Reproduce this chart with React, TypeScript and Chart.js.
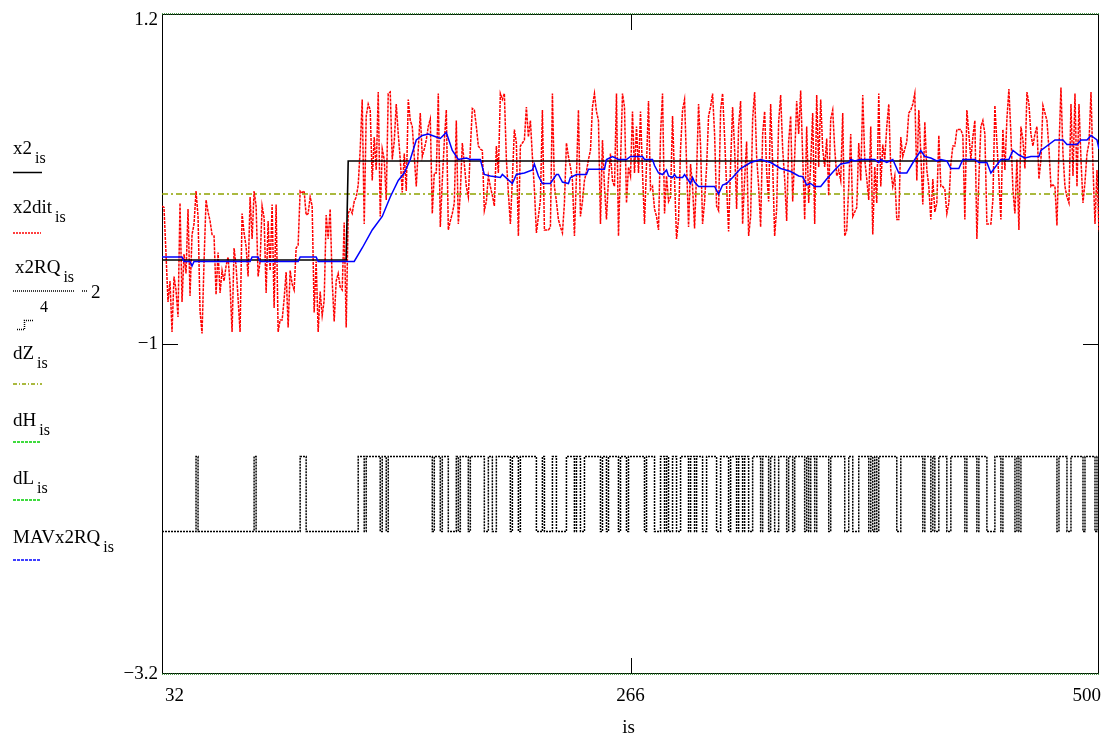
import React, { useEffect, useRef } from "react";
import { Chart, registerables } from "chart.js";

Chart.register(...registerables);

// ---------------- data ----------------
const IS_FIRST = 32; // first index "is"
const xTicks = [32, 266, 500];
const yTicks = [-3.2, -1, 1.2];

// x2 (black step): vertices
const x2Idx = [32, 124, 125, 500];
const x2Val = [-0.44, -0.44, 0.22, 0.22];

// thresholds
const dZ = 0;
const dH = 1.2;
const dL = -3.2;

// x2dit (red), one value per is = 32..500
const x2dit = [
  -0.08, -0.09, -0.4, -0.72, -0.58, -0.92, -0.55, -0.64, -0.82, -0.06,
  -0.72, -0.4, -0.53, -0.1, -0.68, -0.27, -0.2, 0.02, -0.15, -0.78,
  -0.93, -0.45, -0.04, -0.12, -0.18, -0.27, -0.28, -0.67, -0.39, -0.66,
  -0.51, -0.58, -0.48, -0.42, -0.61, -0.92, -0.36, -0.48, -0.7, -0.92,
  -0.13, -0.26, -0.35, -0.55, -0.02, -0.3, 0.02, -0.08, -0.55, -0.45,
  -0.08, -0.16, -0.66, -0.18, -0.51, -0.07, -0.76, -0.07, -0.92, -0.84,
  -0.84, -0.7, -0.52, -0.89, -0.51, -0.6, -0.64, -0.36, -0.34, 0.02,
  0.01, 0.02, -0.14, -0.13, -0.02, -0.08, -0.79, -0.45, -0.92, -0.65,
  -0.81, -0.71, -0.14, -0.3, -0.1, -0.58, -0.85, -0.58, -0.53, -0.62,
  -0.64, -0.19, -0.89, -0.13, -0.1, -0.13, -0.05, -0.02, 0.06, 0.3,
  0.63, -0.2, 0.52, 0.6, 0.56, 0.09, 0.38, 0.16, 0.68, -0.15,
  0.3, 0.23, -0.04, 0.67, 0.68, 0.23, 0.35, 0.6, 0.4, 0.23,
  0.01, 0.27, 0.02, 0.63, 0.49, 0.45, 0.25, 0.05, 0.3, 0.54,
  0.25, 0.3, 0.36, 0.45, 0.5, -0.13, 0.14, 0.14, 0.67, -0.22,
  0.09, 0.35, 0.56, -0.24, -0.18, -0.13, -0.06, 0.49, -0.2, 0.01,
  0.34, 0.2, 0.05, -0.02, 0.3, 0.57, 0.56, 0.45, 0.32, 0.3,
  0.29, -0.11, -0.05, 0.12, 0.05, -0.01, -0.08, 0.32, 0.14, 0.67,
  0.63, 0.67, 0.23, 0.01, -0.2, 0.1, 0.43, 0.34, -0.28, 0.32,
  0.34, 0.36, 0.58, 0.38, 0.49, 0.25, 0.03, -0.26, -0.15, -0.04,
  0.56, -0.24, -0.24, -0.24, -0.22, 0.67, 0.05, -0.05, -0.17, -0.22,
  -0.26, -0.06, 0.34, 0.25, 0.18, 0.09, -0.28, 0.12, 0.56, -0.15,
  -0.05, 0.09, 0.15, 0.23, 0.29, 0.58, 0.67, 0.55, 0.49, -0.2,
  0.36, 0.05, -0.17, 0.1, 0.27, 0.09, 0.05, 0.67, -0.28, 0.2,
  0.67, 0.58, -0.06, 0.18, 0.12, 0.55, 0.14, 0.45, 0.14, 0.55,
  0.14, -0.2, 0.2, 0.62, 0.03, 0.05, -0.1, -0.15, -0.24, 0.4,
  0.67, -0.13, 0.12, -0.05, -0.02, 0.52, 0.1, -0.3, -0.17, 0.3,
  0.56, 0.63, 0.2, -0.22, 0.2, 0.05, -0.23, 0.14, 0.6, 0.32,
  -0.2, -0.05, 0.18, 0.52, 0.58, 0.67, 0.4, -0.08, -0.11, 0.56,
  0.67, 0.38, 0.05, -0.25, 0.2, 0.58, 0.3, -0.1, 0.45, 0.62,
  -0.2, 0.1, 0.35, -0.28, -0.15, 0.5, 0.68, 0.25, 0.05, -0.22,
  0.4, 0.55, 0.15, -0.05, 0.6, 0.2, -0.28, -0.1, 0.48, 0.66,
  0.3, 0.1, -0.18, 0.35, 0.52, -0.05, 0.25, 0.62, 0.4, 0.69,
  0.25, -0.17, 0.45, -0.06, 0.2, 0.54, -0.2, 0.66, 0.18, 0.63,
  0.3, 0.18, 0.37, -0.01, 0.5, 0.56, 0.3, 0.12, 0.16, 0.09,
  0.54, -0.28, -0.24, 0.05, 0.4, -0.15, -0.12, -0.09, 0.34, 0.09,
  0.66, 0.23, 0.1, -0.04, 0.45, -0.27, 0.18, -0.06, 0.67, 0.05,
  0.33, 0.23, 0.45, 0.6, 0.16, 0.05, 0.12, -0.17, -0.17, 0.38,
  0.25, 0.3, 0.35, 0.54, 0.56, 0.6, 0.67, 0.09, 0.56, 0.27,
  -0.07, 0.48, 0.16, 0.05, -0.17, 0.1, -0.12, -0.06, 0.39, 0.05,
  0.05, 0.03, -0.13, -0.06, 0.2, 0.32, 0.32, 0.43, 0.43, 0.43,
  0.39, -0.17, 0.56, 0.4, 0.23, 0.38, 0.49, -0.3, 0.1, 0.45,
  0.49, 0.4, -0.2, -0.2, -0.2, -0.04, 0.59, 0.34, 0.1, -0.17,
  0.43, 0.16, 0.5, 0.7, 0.4, 0.03, -0.13, 0.23, -0.24, 0.45,
  0.36, 0.17, 0.68, 0.6, 0.4, 0.32, 0.4, 0.45, 0.1, 0.23,
  0.59, 0.54, 0.49, 0.3, 0.05, 0.06, 0.05, -0.21, 0.3, 0.71,
  0.27, 0.05, -0.02, -0.06, 0.6, 0.12, 0.67, 0.05, 0.6, 0.23,
  -0.06, 0.08, 0.27, 0.34, 0.68, 0.18, -0.2, 0.16, -0.25,
];

// x2RQ (quantized, +1 / -1), one value per is = 32..500
const x2RQ = [
  -1, -1, -1, -1, -1, -1, -1, -1, -1, -1,
  -1, -1, -1, -1, -1, -1, -1, 1, -1, -1,
  -1, -1, -1, -1, -1, -1, -1, -1, -1, -1,
  -1, -1, -1, -1, -1, -1, -1, -1, -1, -1,
  -1, -1, -1, -1, -1, -1, 1, -1, -1, -1,
  -1, -1, -1, -1, -1, -1, -1, -1, -1, -1,
  -1, -1, -1, -1, -1, -1, -1, -1, -1, 1,
  1, 1, -1, -1, -1, -1, -1, -1, -1, -1,
  -1, -1, -1, -1, -1, -1, -1, -1, -1, -1,
  -1, -1, -1, -1, -1, -1, -1, -1, 1, 1,
  1, -1, 1, 1, 1, 1, 1, 1, 1, -1,
  1, 1, -1, 1, 1, 1, 1, 1, 1, 1,
  1, 1, 1, 1, 1, 1, 1, 1, 1, 1,
  1, 1, 1, 1, 1, -1, 1, 1, 1, -1,
  1, 1, 1, -1, -1, -1, -1, 1, -1, 1,
  1, 1, 1, -1, 1, 1, 1, 1, 1, 1,
  1, -1, -1, 1, 1, -1, -1, 1, 1, 1,
  1, 1, 1, 1, -1, 1, 1, 1, -1, 1,
  1, 1, 1, 1, 1, 1, 1, -1, -1, -1,
  1, -1, -1, -1, -1, 1, 1, -1, -1, -1,
  -1, -1, 1, 1, 1, 1, -1, 1, 1, -1,
  -1, 1, 1, 1, 1, 1, 1, 1, 1, -1,
  1, 1, -1, 1, 1, 1, 1, 1, -1, 1,
  1, 1, -1, 1, 1, 1, 1, 1, 1, 1,
  1, -1, 1, 1, 1, 1, -1, -1, -1, 1,
  1, -1, 1, -1, -1, 1, 1, -1, -1, 1,
  1, 1, 1, -1, 1, 1, -1, 1, 1, 1,
  -1, -1, 1, 1, 1, 1, 1, -1, -1, 1,
  1, 1, 1, -1, 1, 1, 1, -1, 1, 1,
  -1, 1, 1, -1, -1, 1, 1, 1, 1, -1,
  1, 1, 1, -1, 1, 1, -1, -1, 1, 1,
  1, 1, -1, 1, 1, -1, 1, 1, 1, 1,
  1, -1, 1, -1, 1, 1, -1, 1, 1, 1,
  1, 1, 1, -1, 1, 1, 1, 1, 1, 1,
  1, -1, -1, 1, 1, -1, -1, -1, 1, 1,
  1, 1, 1, -1, 1, -1, 1, -1, 1, 1,
  1, 1, 1, 1, 1, 1, 1, -1, -1, 1,
  1, 1, 1, 1, 1, 1, 1, 1, 1, 1,
  -1, 1, 1, 1, -1, 1, -1, -1, 1, 1,
  1, 1, -1, -1, 1, 1, 1, 1, 1, 1,
  1, -1, 1, 1, 1, 1, 1, -1, 1, 1,
  1, 1, -1, -1, -1, -1, 1, 1, 1, -1,
  1, 1, 1, 1, 1, 1, -1, 1, -1, 1,
  1, 1, 1, 1, 1, 1, 1, 1, 1, 1,
  1, 1, 1, 1, 1, 1, 1, -1, 1, 1,
  1, 1, -1, -1, 1, 1, 1, 1, 1, 1,
  -1, 1, 1, 1, 1, 1, -1, 1, -1,
];

// MAVx2RQ (blue): vertices
const mavIdx = [
  32, 42, 43, 46, 47, 48, 76, 77, 80, 81, 100, 101, 109, 110, 128, 132, 137, 142, 146, 150,
  153, 156, 159, 162, 165, 169, 171, 174, 177, 180, 184, 186, 191, 193, 196, 201, 202, 207, 209, 213,
  217, 218, 220, 222, 226, 229, 230, 232, 235, 236, 239, 244, 245, 253, 254, 257, 260, 264, 266, 272,
  273, 277, 278, 280, 282, 284, 285, 287, 288, 289, 292, 293, 294, 296, 297, 298, 300, 308, 310, 312,
  314, 317, 321, 326, 331, 336, 341, 346, 350, 352, 354, 356, 358, 361, 364, 368, 371, 375, 376, 378,
  381, 388, 390, 391, 394, 397, 400, 404, 408, 411, 413, 416, 419, 421, 424, 426, 430, 432, 438, 440,
  444, 446, 451, 455, 457, 460, 463, 466, 470, 471, 478, 482, 484, 489, 491, 494, 496, 499, 500,
];
const mavVal = [
  -0.42, -0.42, -0.45, -0.45, -0.48, -0.45, -0.45, -0.42, -0.42, -0.45, -0.45, -0.42, -0.42, -0.45, -0.45, -0.36, -0.24, -0.15, -0.02, 0.09,
  0.14, 0.23, 0.36, 0.39, 0.4, 0.38, 0.37, 0.41, 0.29, 0.23, 0.24, 0.23, 0.23, 0.13, 0.12, 0.11, 0.13, 0.07, 0.13, 0.14,
  0.16, 0.2, 0.12, 0.07, 0.07, 0.13, 0.13, 0.08, 0.07, 0.11, 0.13, 0.13, 0.165, 0.165, 0.23, 0.25, 0.23, 0.23, 0.25, 0.25,
  0.23, 0.23, 0.19, 0.14, 0.13, 0.16, 0.12, 0.11, 0.13, 0.11, 0.11, 0.13, 0.11, 0.07, 0.11, 0.08, 0.05, 0.05, 0.0, 0.06,
  0.07, 0.11, 0.17, 0.21, 0.23, 0.21, 0.17, 0.15, 0.12, 0.115, 0.06, 0.07, 0.05, 0.05, 0.1, 0.16, 0.2, 0.21, 0.23, 0.22,
  0.23, 0.23, 0.21, 0.23, 0.21, 0.23, 0.14, 0.14, 0.23, 0.29, 0.25, 0.24, 0.22, 0.23, 0.22, 0.17, 0.17, 0.23, 0.23, 0.21,
  0.21, 0.14, 0.23, 0.23, 0.29, 0.26, 0.24, 0.25, 0.25, 0.29, 0.36, 0.36, 0.33, 0.33, 0.36, 0.36, 0.39, 0.36, 0.3,
];

// ---------------- helpers ----------------
const FONT = '"Liberation Serif", "Times New Roman", Times, serif';
const fmt = (v: number) => (v < 0 ? "\u2212" + String(Math.abs(v)) : String(v));

const framePlugin = {
  id: "mathcadFrame",
  beforeDatasetsDraw(chart: any) {
    const { ctx, chartArea: a, scales } = chart;
    ctx.save();
    ctx.strokeStyle = "#000";
    ctx.lineWidth = 1;
    ctx.strokeRect(a.left + 0.5, a.top + 0.5, a.right - a.left - 1, a.bottom - a.top - 1);
    // interior tick marks
    ctx.beginPath();
    xTicks.slice(1, -1).forEach((v) => {
      const px = Math.round(scales.x.getPixelForValue(v)) + 0.5;
      ctx.moveTo(px, a.top);
      ctx.lineTo(px, a.top + 16);
      ctx.moveTo(px, a.bottom);
      ctx.lineTo(px, a.bottom - 16);
    });
    yTicks.slice(1, -1).forEach((v) => {
      const py = Math.round(scales.y.getPixelForValue(v)) + 0.5;
      ctx.moveTo(a.left, py);
      ctx.lineTo(a.left + 16, py);
      ctx.moveTo(a.right, py);
      ctx.lineTo(a.right - 16, py);
    });
    ctx.stroke();
    ctx.restore();
  },
  afterDraw(chart: any) {
    const { ctx, chartArea: a, scales } = chart;
    ctx.save();
    ctx.fillStyle = "#000";
    ctx.font = `19px ${FONT}`;
    ctx.textBaseline = "middle";
    ctx.textAlign = "right";
    yTicks.forEach((v) => {
      let py = scales.y.getPixelForValue(v);
      py = Math.min(Math.max(py, a.top + 6), a.bottom + 1);
      ctx.fillText(fmt(v), a.left - 4, py);
    });
    xTicks.forEach((v, k) => {
      const px = scales.x.getPixelForValue(v);
      if (k === 0) {
        ctx.textAlign = "left";
        ctx.fillText(fmt(v), px + 3, a.bottom + 22);
      } else if (k === xTicks.length - 1) {
        ctx.textAlign = "right";
        ctx.fillText(fmt(v), px + 2, a.bottom + 22);
      } else {
        ctx.textAlign = "center";
        ctx.fillText(fmt(v), px, a.bottom + 22);
      }
    });
    ctx.textAlign = "center";
    ctx.fillText("is", (a.left + a.right) / 2 - 2, a.bottom + 54);
    ctx.restore();
  },
};

function LegendLabel(props: { name: string; left: number; baseline: number }) {
  return (
    <div
      style={{
        position: "absolute",
        left: props.left,
        top: props.baseline - 16,
        font: `19px ${FONT}`,
        lineHeight: "19px",
        whiteSpace: "nowrap",
        color: "#000",
      }}
    >
      {props.name}
      <span style={{ fontSize: 16, position: "relative", top: 9, marginLeft: 3 }}>is</span>
    </div>
  );
}

export default function App() {
  const ref = useRef<HTMLCanvasElement | null>(null);

  useEffect(() => {
    if (!ref.current) return;
    const seq = (arr: number[]) => arr.map((v, k) => ({ x: IS_FIRST + k, y: v }));
    const chart = new Chart(ref.current, {
      type: "line",
      data: {
        datasets: [
          {
            label: "MAVx2RQ",
            data: mavIdx.map((x, k) => ({ x, y: mavVal[k] })),
            borderColor: "#0000ff",
            borderWidth: 1.5,
            order: 0,
          },
          {
            label: "x2",
            data: x2Idx.map((x, k) => ({ x, y: x2Val[k] })),
            borderColor: "#000000",
            borderWidth: 1.6,
            order: 1,
          },
          {
            label: "dZ",
            data: [
              { x: xTicks[0], y: dZ },
              { x: xTicks[2], y: dZ },
            ],
            borderColor: "#8fa300",
            borderWidth: 1.5,
            borderDash: [6, 3, 2, 3],
            order: 2,
          },
          {
            label: "x2dit",
            data: seq(x2dit),
            borderColor: "#ff0000",
            borderWidth: 1.5,
            borderDash: [3, 1],
            order: 3,
          },
          {
            label: "x2RQ/4-2",
            data: x2RQ.map((q, k) => ({ x: IS_FIRST + k, y: q / 4 - 2 })),
            stepped: true,
            borderColor: "#000000",
            borderWidth: 1.5,
            borderDash: [2, 1],
            order: 4,
          },
          {
            label: "dH",
            data: [
              { x: xTicks[0], y: dH },
              { x: xTicks[2], y: dH },
            ],
            borderColor: "#1a7a1a",
            borderWidth: 1.5,
            borderDash: [1, 1],
            clip: false,
            order: 5,
          },
          {
            label: "dL",
            data: [
              { x: xTicks[0], y: dL },
              { x: xTicks[2], y: dL },
            ],
            borderColor: "#1a7a1a",
            borderWidth: 1.5,
            borderDash: [1, 1],
            clip: false,
            order: 6,
          },
        ] as any,
      },
      options: {
        animation: false,
        responsive: false,
        maintainAspectRatio: false,
        devicePixelRatio: 1,
        layout: { padding: { left: 0, right: 11, top: 14, bottom: 0 } },
        elements: { point: { radius: 0 }, line: { tension: 0 } },
        plugins: { legend: { display: false }, tooltip: { enabled: false } },
        events: [],
        scales: {
          x: {
            type: "linear",
            min: xTicks[0],
            max: xTicks[xTicks.length - 1],
            grid: { display: false },
            border: { display: false },
            ticks: { display: false },
            afterFit: (s: any) => {
              s.height = 68;
            },
          },
          y: {
            type: "linear",
            min: yTicks[0],
            max: yTicks[yTicks.length - 1],
            grid: { display: false },
            border: { display: false },
            ticks: { display: false },
            afterFit: (s: any) => {
              s.width = 162;
            },
          },
        },
      } as any,
      plugins: [framePlugin],
    });
    return () => chart.destroy();
  }, []);

  return (
    <div style={{ position: "absolute", left: 0, top: 0, width: 1110, height: 742, background: "#fff" }}>
      <canvas
        ref={ref}
        width={1110}
        height={742}
        style={{ position: "absolute", left: 0, top: 0, width: 1110, height: 742, display: "block" }}
      />
      <LegendLabel name="x2" left={13} baseline={154} />
      <LegendLabel name="x2dit" left={13} baseline={213} />
      <LegendLabel name="x2RQ" left={15} baseline={273} />
      <div style={{ position: "absolute", left: 91, top: 282, font: `19px ${FONT}`, lineHeight: "19px" }}>2</div>
      <div style={{ position: "absolute", left: 40, top: 299, font: `16px ${FONT}`, lineHeight: "16px" }}>4</div>
      <LegendLabel name="dZ" left={13} baseline={359} />
      <LegendLabel name="dH" left={13} baseline={426} />
      <LegendLabel name="dL" left={13} baseline={484} />
      <LegendLabel name="MAVx2RQ" left={13} baseline={543} />
      <svg
        width={160}
        height={742}
        style={{ position: "absolute", left: 0, top: 0, pointerEvents: "none" }}
      >
        <line x1={13} x2={42} y1={172.5} y2={172.5} stroke="#000" strokeWidth={1.5} />
        <line x1={13} x2={41} y1={233} y2={233} stroke="#ff0000" strokeWidth={1.5} strokeDasharray="2 1" />
        <line x1={13} x2={75} y1={291} y2={291} stroke="#000" strokeWidth={1.5} strokeDasharray="1 1" />
        <line x1={82} x2={88} y1={291} y2={291} stroke="#000" strokeWidth={1.5} strokeDasharray="1 1" />
        <polyline
          points="17,329.5 24.5,329.5 24.5,320.5 33,320.5"
          fill="none"
          stroke="#000"
          strokeWidth={1.5}
          strokeDasharray="1 1"
        />
        <line x1={13} x2={42} y1={384} y2={384} stroke="#8fa300" strokeWidth={1.5} strokeDasharray="4 2 1 2" />
        <line x1={13} x2={41} y1={442} y2={442} stroke="#00d000" strokeWidth={1.5} strokeDasharray="3 1" />
        <line x1={13} x2={41} y1={500} y2={500} stroke="#00d000" strokeWidth={1.5} strokeDasharray="3 1" />
        <line x1={13} x2={41} y1={560} y2={560} stroke="#0000ff" strokeWidth={1.5} strokeDasharray="3 1" />
      </svg>
    </div>
  );
}
